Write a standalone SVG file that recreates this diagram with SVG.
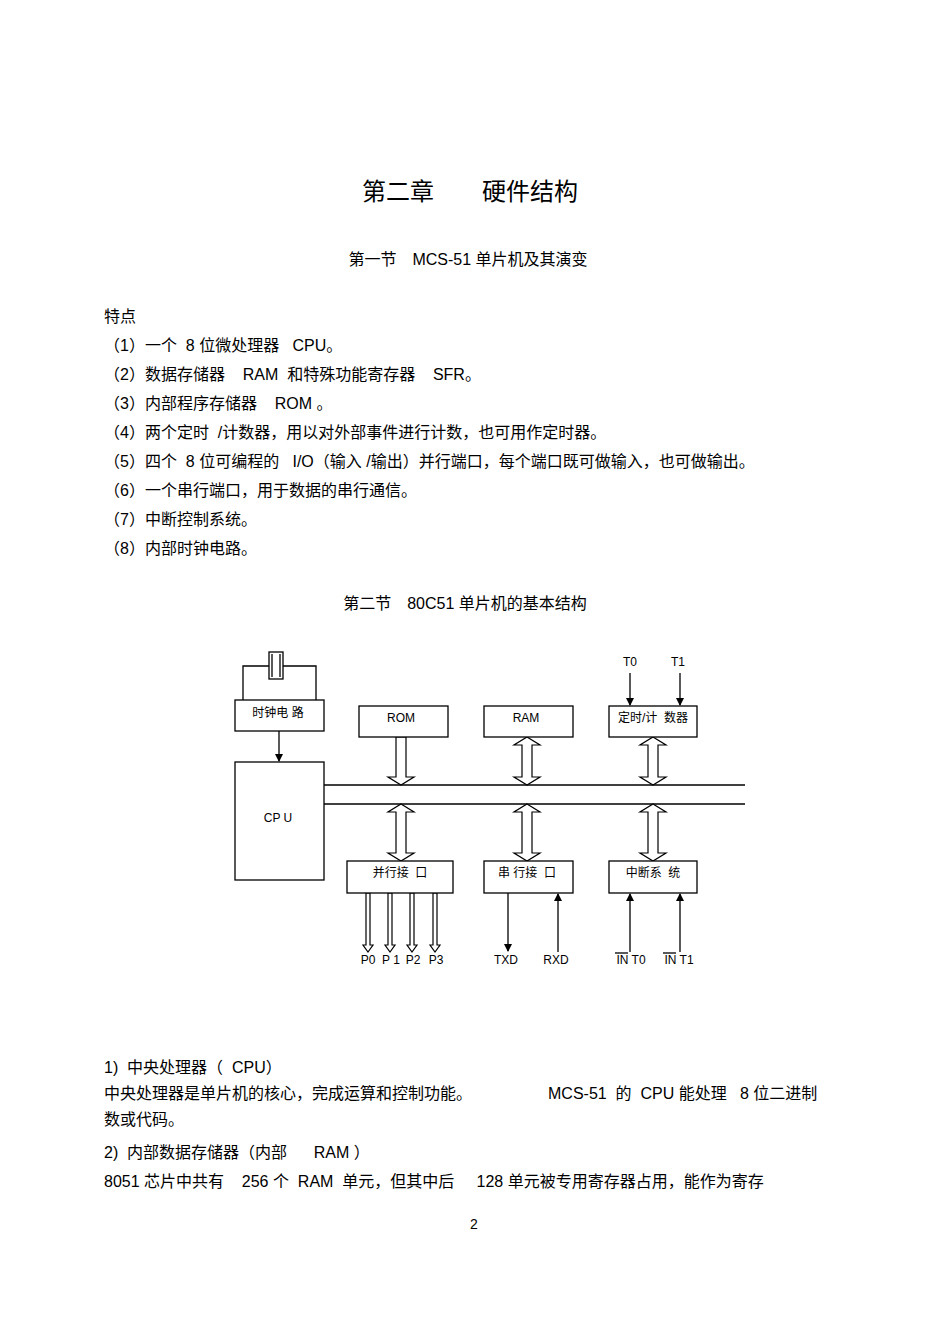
<svg xmlns="http://www.w3.org/2000/svg" width="950" height="1341" viewBox="0 0 950 1341" xml:space="preserve">
<style>
text{font-family:"Liberation Sans","Noto Sans CJK SC",sans-serif;fill:#000;white-space:pre}
.b{font-size:16px}
.s{font-size:12px}
.box{fill:#fff;stroke:#000;stroke-width:1.3}
.ln{stroke:#000;stroke-width:1.3;fill:none}
.ha{fill:#fff;stroke:#000;stroke-width:1.2}
</style>
<defs>
<marker id="ar" markerWidth="8" markerHeight="8" refX="7" refY="4" orient="auto" markerUnits="userSpaceOnUse"><path d="M0,0 L8,4 L0,8 z" fill="#000"/></marker>
</defs>
<rect width="950" height="1341" fill="#fff"/>
<text x="470" y="200" font-size="24" text-anchor="middle">第二章　　硬件结构</text>
<text class="b" x="468" y="265" text-anchor="middle">第一节　MCS-51 单片机及其演变</text>
<g class="b">
<text x="104" y="322">特点</text>
<text x="104" y="351">（1）一个  8 位微处理器   CPU。</text>
<text x="104" y="380">（2）数据存储器    RAM  和特殊功能寄存器    SFR。</text>
<text x="104" y="409">（3）内部程序存储器    ROM 。</text>
<text x="104" y="438">（4）两个定时  /计数器，用以对外部事件进行计数，也可用作定时器。</text>
<text x="104" y="467">（5）四个  8 位可编程的   I/O（输入 /输出）并行端口，每个端口既可做输入，也可做输出。</text>
<text x="104" y="496">（6）一个串行端口，用于数据的串行通信。</text>
<text x="104" y="525">（7）中断控制系统。</text>
<text x="104" y="554">（8）内部时钟电路。</text>
</g>
<text class="b" x="465" y="609" text-anchor="middle">第二节　80C51 单片机的基本结构</text>

<g id="connectors">
<rect x="269" y="652" width="14" height="27" class="box"/>
<line x1="272" y1="654" x2="272" y2="677" class="ln"/>
<line x1="280" y1="654" x2="280" y2="677" class="ln"/>
<path d="M269,666 H243 V700 M283,666 H316 V700" class="ln"/>
<line x1="279" y1="731" x2="279" y2="761" class="ln" marker-end="url(#ar)"/>
<line x1="324" y1="785" x2="745" y2="785" class="ln"/>
<line x1="324" y1="804" x2="745" y2="804" class="ln"/>
<path class="ha" d="M396,737 V777 H388 L401,785 L414,777 H406 V737 z"/>
<path class="ha" d="M527,737 L540,745 H532 V777 H540 L527,785 L514,777 H522 V745 H514 z"/>
<path class="ha" d="M653,737 L666,745 H658 V777 H666 L653,785 L640,777 H648 V745 H640 z"/>
<path class="ha" d="M401,804 L414,812 H406 V853 H414 L401,861 L388,853 H396 V812 H388 z"/>
<path class="ha" d="M527,804 L540,812 H532 V853 H540 L527,861 L514,853 H522 V812 H514 z"/>
<path class="ha" d="M653,804 L666,812 H658 V853 H666 L653,861 L640,853 H648 V812 H640 z"/>
<path class="ha" d="M366,893 V945 H363 L368,952 L373,945 H370 V893 z"/>
<path class="ha" d="M388,893 V945 H385 L390,952 L395,945 H392 V893 z"/>
<path class="ha" d="M410,893 V945 H407 L412,952 L417,945 H414 V893 z"/>
<path class="ha" d="M433,893 V945 H430 L435,952 L440,945 H437 V893 z"/>
<line x1="508" y1="893" x2="508" y2="951" class="ln" marker-end="url(#ar)"/>
<line x1="558" y1="952" x2="558" y2="894" class="ln" marker-end="url(#ar)"/>
<line x1="630" y1="952" x2="630" y2="894" class="ln" marker-end="url(#ar)"/>
<line x1="680" y1="952" x2="680" y2="894" class="ln" marker-end="url(#ar)"/>
<line x1="630" y1="673" x2="630" y2="705" class="ln" marker-end="url(#ar)"/>
<line x1="680" y1="673" x2="680" y2="705" class="ln" marker-end="url(#ar)"/>
<line x1="615" y1="953" x2="628" y2="953" class="ln" stroke-width="1"/>
<line x1="663" y1="953" x2="676" y2="953" class="ln" stroke-width="1"/>
</g>

<g id="clock"><rect x="235" y="700" width="89" height="31" class="box"/><text class="s" x="278" y="717" text-anchor="middle">时钟电 路</text></g>
<g id="cpu"><rect x="235" y="762" width="89" height="118" class="box"/><text class="s" x="278" y="822" text-anchor="middle">CP U</text></g>
<g id="rom"><rect x="359" y="706" width="89" height="31" class="box"/><text class="s" x="401" y="722" text-anchor="middle">ROM</text></g>
<g id="ram"><rect x="484" y="706" width="89" height="31" class="box"/><text class="s" x="526" y="722" text-anchor="middle">RAM</text></g>
<g id="timer"><rect x="609" y="706" width="88" height="31" class="box"/><text class="s" x="653" y="722" text-anchor="middle">定时/计  数器</text></g>
<g id="pio"><rect x="347" y="861" width="106" height="32" class="box"/><text class="s" x="400" y="877" text-anchor="middle">并行接  口</text></g>
<g id="sio"><rect x="484" y="861" width="89" height="32" class="box"/><text class="s" x="527" y="877" text-anchor="middle">串 行接  口</text></g>
<g id="int"><rect x="609" y="861" width="88" height="32" class="box"/><text class="s" x="653" y="877" text-anchor="middle">中断系  统</text></g>

<g class="s" text-anchor="middle">
<text x="630" y="666">T0</text><text x="678" y="666">T1</text>
<text x="368" y="964">P0</text><text x="391" y="964">P 1</text><text x="413" y="964">P2</text><text x="436" y="964">P3</text>
<text x="506" y="964">TXD</text><text x="556" y="964">RXD</text>
<text x="631" y="964">IN T0</text><text x="679" y="964">IN T1</text>
</g>

<g class="b">
<text x="104" y="1073">1)  中央处理器（  CPU）</text>
<text x="104" y="1099">中央处理器是单片机的核心，完成运算和控制功能。</text>
<text x="548" y="1099">MCS-51  的  CPU 能处理   8 位二进制</text>
<text x="104" y="1125">数或代码。</text>
<text x="104" y="1158">2)  内部数据存储器（内部      RAM ）</text>
<text x="104" y="1187">8051 芯片中共有    256 个  RAM  单元，但其中后     128 单元被专用寄存器占用，能作为寄存</text>
</g>
<text x="474" y="1229" font-size="14" text-anchor="middle">2</text>
</svg>
